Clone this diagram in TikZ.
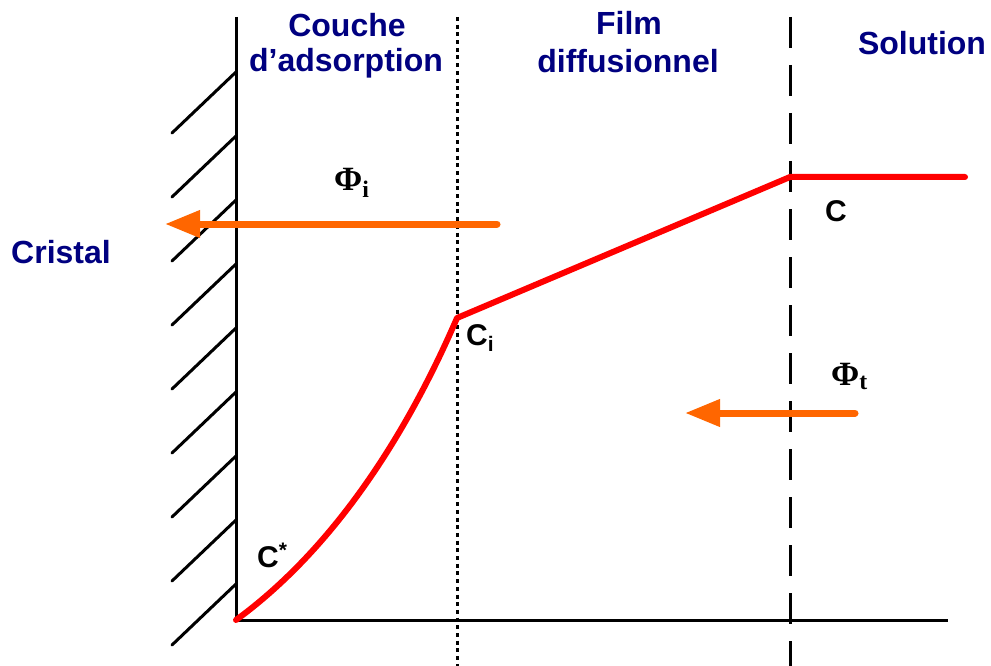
\documentclass[tikz,border=0pt]{standalone}
\usepackage{fontspec}
\setmainfont{Liberation Sans}
\newfontfamily\serifb{Liberation Serif}
\usetikzlibrary{arrows.meta}
\definecolor{navyt}{RGB}{0,0,128}
\definecolor{orng}{RGB}{255,102,0}
\definecolor{redc}{RGB}{255,0,0}
\begin{document}
\begin{tikzpicture}[x=1pt,y=-1pt,
  lab/.style={inner sep=0pt, anchor=base, text=navyt, font=\fontsize{32}{36}\selectfont\bfseries},
  clab/.style={inner sep=0pt, anchor=base west, font=\fontsize{30}{34}\selectfont\bfseries},
  phil/.style={inner sep=0pt, anchor=base west, font=\fontsize{34}{38}\selectfont\serifb\bfseries},
  wallline/.style={line width=3pt},
  hatch/.style={line width=3pt, line cap=round},
  dottedsep/.style={line width=3pt, dash pattern=on 4pt off 3.7pt},
  dashedsep/.style={line width=3pt, dash pattern=on 31pt off 17pt},
  flux/.style={orng, line width=7pt, line cap=round, -{Triangle[length=35pt,width=26pt]}},
  profile/.style={redc, line width=6pt, line cap=round, line join=round}]
\useasboundingbox (0,0) rectangle (991,666);
% coordinates
\coordinate (wtop) at (236,17);
\coordinate (origin) at (236,620);
\coordinate (xend) at (948,620);
\coordinate (dtop) at (457,17);
\coordinate (dbot) at (457,666);
\coordinate (etop) at (790,17);
\coordinate (ebot) at (790,666);
\coordinate (ci) at (457,318);
\coordinate (cs) at (790,177);
\coordinate (cend) at (965,177);
\coordinate (fi1) at (497,224);
\coordinate (fi2) at (165,224);
\coordinate (ft1) at (855,413);
\coordinate (ft2) at (685,413);
% wall and axis
\draw[wallline] (wtop) -- (origin) -- (xend);
\foreach \k in {0,...,8} \draw[hatch] (236,72+64*\k) -- (172,133+64*\k);
% layer boundaries
\draw[dottedsep] (dtop) -- (dbot);
\draw[dashedsep] (etop) -- (ebot);
% concentration profile
\draw[profile] (origin) .. controls (325,555) and (400,450) .. (ci) -- (cs) -- (cend);
% fluxes
\draw[flux] (fi1) -- (fi2);
\draw[flux] (ft1) -- (ft2);
% labels
\node[lab] (couche) at (347,37) {Couche};
\node[lab] (adsorp) at (346,72) {d’adsorption};
\node[lab] (film) at (629,35) {Film};
\node[lab] (diffus) at (628,73) {diffusionnel};
\node[lab] (solution) at (922,55) {Solution};
\node[lab] (cristal) at (61,263) {Cristal};
\node[clab] (clabel) at (825,222) {C};
\node[clab] (cilabel) at (466,345) {C\textsubscript{i}};
\node[clab] (cstar) at (257,567) {C\textsuperscript{*}};
\node[phil] (phii) at (334,190) {Φ\textsubscript{i}};
\node[phil] (phit) at (831,385) {Φ\textsubscript{t}};
\end{tikzpicture}
\end{document}
